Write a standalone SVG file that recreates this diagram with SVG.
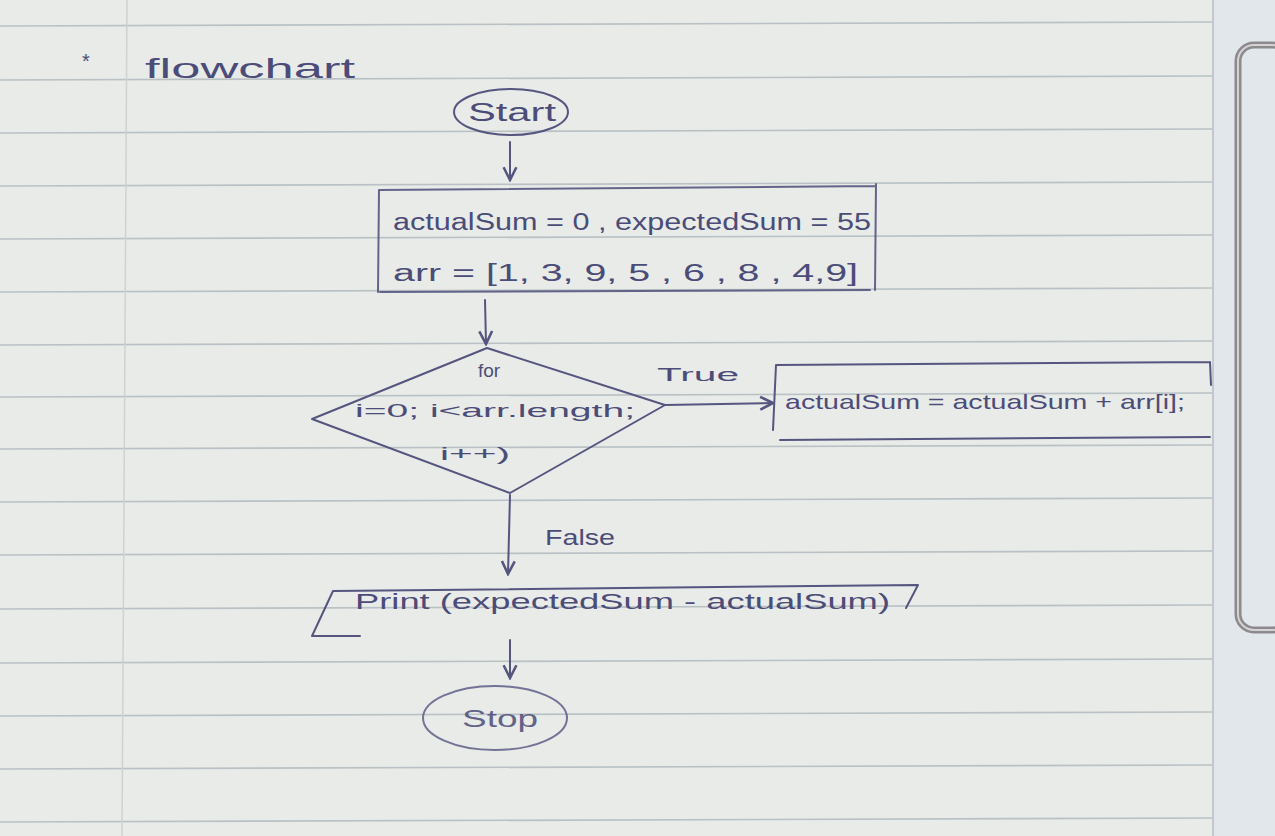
<svg xmlns="http://www.w3.org/2000/svg" width="1275" height="836" viewBox="0 0 1275 836">
<defs>
<style>
.ink{fill:none;stroke:#55557f;stroke-width:2;stroke-linecap:round;stroke-linejoin:round}
.txt{font-family:"Liberation Sans",Arial,sans-serif;fill:#4c4c78}
.rule{stroke:#b9c1c4;stroke-width:1.6}
</style>
<marker id="ah" viewBox="0 0 10 10" refX="9" refY="5" markerWidth="8" markerHeight="8" orient="auto-start-reverse">
<path d="M1,1 L9,5 L1,9" fill="none" stroke="#55557f" stroke-width="1.6"/>
</marker>
</defs>
<rect width="1275" height="836" fill="#e8ebe8"/>
<g id="paper">
<line class="rule" x1="0" y1="26" x2="1215" y2="22"/>
<line class="rule" x1="0" y1="80" x2="1215" y2="76"/>
<line class="rule" x1="0" y1="133" x2="1215" y2="129"/>
<line class="rule" x1="0" y1="186" x2="1215" y2="182"/>
<line class="rule" x1="0" y1="239" x2="1215" y2="235"/>
<line class="rule" x1="0" y1="292" x2="1215" y2="288"/>
<line class="rule" x1="0" y1="345" x2="1215" y2="341"/>
<line class="rule" x1="0" y1="397" x2="1215" y2="393"/>
<line class="rule" x1="0" y1="449" x2="1215" y2="445"/>
<line class="rule" x1="0" y1="502" x2="1215" y2="498"/>
<line class="rule" x1="0" y1="555" x2="1215" y2="551"/>
<line class="rule" x1="0" y1="609" x2="1215" y2="605"/>
<line class="rule" x1="0" y1="663" x2="1215" y2="659"/>
<line class="rule" x1="0" y1="716" x2="1215" y2="712"/>
<line class="rule" x1="0" y1="769" x2="1215" y2="765"/>
<line class="rule" x1="0" y1="822" x2="1215" y2="818"/>
<line x1="127" y1="0" x2="122" y2="836" stroke="#cdd2d2" stroke-width="1.5"/>
<rect x="1213" y="0" width="62" height="836" fill="#e2e7ec"/>
<line x1="1213" y1="0" x2="1213" y2="836" stroke="#c3c8cc" stroke-width="2"/>
<rect x="1238" y="45" width="50" height="585" rx="16" fill="none" stroke="#8c8a8c" stroke-width="7"/>
<rect x="1238" y="45" width="50" height="585" rx="16" fill="none" stroke="#d4d2d4" stroke-width="2"/>
</g>
<g id="title">
<text class="txt" x="82" y="68" font-size="20">*</text>
<text class="txt" x="145" y="78" font-size="28" textLength="210" lengthAdjust="spacingAndGlyphs">flowchart</text>
</g>
<g id="start">
<ellipse class="ink" cx="511" cy="112" rx="57" ry="23"/>
<text class="txt" x="468" y="121" font-size="25" textLength="88" lengthAdjust="spacingAndGlyphs">Start</text>
</g>
<g id="init">
<path class="ink" d="M378,292 L379,190 L876,186 M876,184 L875,290 M380,292 L870,290" stroke-opacity="0.9"/>
<text class="txt" x="393" y="230" font-size="23" textLength="478" lengthAdjust="spacingAndGlyphs">actualSum = 0 , expectedSum = 55</text>
<text class="txt" x="393" y="281" font-size="23" textLength="465" lengthAdjust="spacingAndGlyphs">arr = [1, 3, 9, 5 , 6 , 8 , 4,9]</text>
</g>
<g id="loop">
<path class="ink" d="M487,348 L665,405 L510,493 L312,419 Z"/>
<text class="txt" x="489" y="377" text-anchor="middle" font-size="19">for</text>
<text class="txt" x="495" y="417" text-anchor="middle" font-size="19" textLength="280" lengthAdjust="spacingAndGlyphs">i=0; i&lt;arr.length;</text>
<text class="txt" x="440" y="460" font-size="19" textLength="70" lengthAdjust="spacingAndGlyphs">i++)</text>
</g>
<g id="body">
<path class="ink" d="M776,365 L1210,362 M1210,362 L1211,385 M780,440 L1210,437 M776,365 L773,430"/>
<text class="txt" x="785" y="409" font-size="21" textLength="400" lengthAdjust="spacingAndGlyphs">actualSum = actualSum + arr[i];</text>
</g>
<g id="output">
<path class="ink" d="M333,591 L918,585 L906,608 M333,591 L312,636 L360,636"/>
<text class="txt" x="355" y="609" font-size="22" textLength="535" lengthAdjust="spacingAndGlyphs">Print (expectedSum - actualSum)</text>
</g>
<g id="stop">
<ellipse class="ink" cx="495" cy="718" rx="72" ry="32" stroke-opacity="0.8"/>
<text class="txt" x="462" y="727" font-size="24" opacity="0.85" textLength="76" lengthAdjust="spacingAndGlyphs">Stop</text>
</g>
<g id="connectors">
<line class="ink" x1="510" y1="142" x2="510" y2="180" marker-end="url(#ah)"/>
<line class="ink" x1="485" y1="300" x2="486" y2="344" marker-end="url(#ah)"/>
<line class="ink" x1="665" y1="405" x2="773" y2="403" marker-end="url(#ah)"/>
<text class="txt" x="657" y="381" font-size="18" textLength="82" lengthAdjust="spacingAndGlyphs">True</text>
<line class="ink" x1="510" y1="495" x2="508" y2="574" marker-end="url(#ah)"/>
<text class="txt" x="545" y="545" font-size="22" textLength="70" lengthAdjust="spacingAndGlyphs">False</text>
<line class="ink" x1="510" y1="640" x2="510" y2="678" marker-end="url(#ah)"/>
</g>
</svg>
